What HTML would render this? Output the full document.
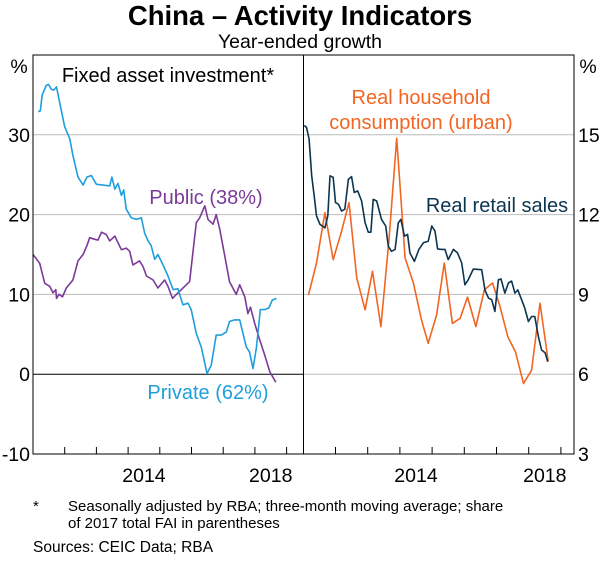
<!DOCTYPE html>
<html><head><meta charset="utf-8"><style>
body{margin:0;background:#fff;width:600px;height:557px;overflow:hidden;font-family:"Liberation Sans",sans-serif}
svg text{font-family:"Liberation Sans",sans-serif}
</style></head><body>
<svg id="chart" width="600" height="557" viewBox="0 0 600 557">
<text x="300" y="25" text-anchor="middle" font-size="27.5" font-weight="bold">China – Activity Indicators</text>
<text x="300" y="48" text-anchor="middle" font-size="19.5">Year-ended growth</text>
<g id="grid"></g>
<g id="series"></g>
<rect x="33" y="55" width="541" height="399" fill="none" stroke="#000" stroke-width="1"/>
<line x1="303.5" y1="55" x2="303.5" y2="454" stroke="#000"/>
<g id="axes"></g>
<text x="19" y="73" text-anchor="middle" font-size="19.5">%</text>
<text x="588" y="73" text-anchor="middle" font-size="19.5">%</text>
<text x="168" y="82" text-anchor="middle" font-size="20">Fixed asset investment*</text>
<text x="206" y="204" text-anchor="middle" font-size="20" fill="#7b3a9a">Public (38%)</text>
<text x="208" y="399" text-anchor="middle" font-size="20" fill="#1e9fdc">Private (62%)</text>
<text x="421" y="104" text-anchor="middle" font-size="20" fill="#f26522">Real household</text>
<text x="421" y="129" text-anchor="middle" font-size="20" fill="#f26522">consumption (urban)</text>
<text x="497" y="212" text-anchor="middle" font-size="20" fill="#0b3550">Real retail sales</text>
<text x="33" y="511" font-size="15">*</text>
<text x="68" y="511" font-size="15">Seasonally adjusted by RBA; three-month moving average; share</text>
<text x="68" y="528" font-size="15">of 2017 total FAI in parentheses</text>
<text x="33" y="552" font-size="15.5">Sources: CEIC Data; RBA</text>
</svg>
<script>
const leftTicks=[-10,0,10,20,30];
const rightTicks=[3,6,9,12,15];
const yearLabels=[2014,2018];
const privYears=[2011.16,2011.23,2011.29,2011.42,2011.49,2011.58,2011.65,2011.74,2011.84,2012.0,2012.16,2012.26,2012.42,2012.58,2012.70,2012.84,2013.0,2013.21,2013.42,2013.49,2013.58,2013.68,2013.79,2013.86,2013.94,2014.10,2014.26,2014.42,2014.52,2014.63,2014.73,2014.84,2014.94,2015.10,2015.26,2015.42,2015.57,2015.73,2015.89,2015.99,2016.15,2016.31,2016.49,2016.62,2016.78,2016.94,2017.10,2017.20,2017.36,2017.52,2017.73,2017.83,2017.94,2018.05,2018.17,2018.31,2018.44,2018.55,2018.68];
const privVals=[32.9,33,35,36.2,36.3,35.7,35.6,36,34.1,31,29.5,27.4,24.7,23.7,24.7,24.9,23.8,23.7,23.6,24.7,23.2,23.9,22.4,23.1,20.7,19.6,19.4,19.6,17.7,16.7,16.1,14.4,15,13.7,12.3,10.6,10.7,8.7,8.9,8.1,5.1,3.4,0.1,1.1,4.9,4.9,5.3,6.6,6.8,6.8,3.4,2.8,0.7,3.4,8.1,8.1,8.3,9.3,9.5];
const pubYears=[2011.0,2011.21,2011.37,2011.53,2011.63,2011.72,2011.74,2011.82,2011.93,2012.05,2012.26,2012.42,2012.58,2012.70,2012.79,2012.95,2013.05,2013.16,2013.31,2013.42,2013.58,2013.79,2013.94,2014.05,2014.15,2014.36,2014.47,2014.58,2014.79,2014.94,2015.15,2015.26,2015.40,2015.52,2015.68,2015.94,2016.15,2016.26,2016.42,2016.52,2016.68,2016.78,2016.89,2017.05,2017.20,2017.41,2017.52,2017.68,2017.78,2017.86,2017.99,2018.15,2018.31,2018.47,2018.66];
const pubVals=[15,13.9,11.4,11,10.2,10.6,9.5,10,9.7,10.8,11.8,14.2,15,16.1,17.1,16.9,16.8,17.8,17.5,16.7,17.3,15.6,15.8,15.4,13.7,14.2,13.5,12.3,11.8,10.8,11.8,11,9.5,10,10.6,11.6,19,19.6,21.1,19.4,18.8,20,18.2,14.8,11.6,10,11.2,9.7,7.6,8.4,6.4,4.3,2.4,0.3,-1];
const retailYears=[2011.03,2011.10,2011.18,2011.26,2011.34,2011.41,2011.52,2011.67,2011.76,2011.83,2011.93,2012.0,2012.09,2012.19,2012.29,2012.40,2012.50,2012.58,2012.69,2012.81,2012.92,2013.02,2013.10,2013.17,2013.28,2013.43,2013.56,2013.64,2013.74,2013.85,2013.95,2014.03,2014.14,2014.24,2014.31,2014.45,2014.59,2014.73,2014.88,2014.99,2015.09,2015.17,2015.30,2015.40,2015.50,2015.66,2015.79,2015.92,2016.02,2016.12,2016.28,2016.54,2016.64,2016.75,2016.85,2016.95,2017.06,2017.14,2017.26,2017.37,2017.47,2017.57,2017.66,2017.78,2017.88,2017.99,2018.09,2018.19,2018.30,2018.40,2018.51,2018.59];
const retailVals=[15.35,15.28,14.84,13.46,12.7,11.95,11.63,11.5,11.95,13.46,13.4,12.45,12.39,12.13,12.2,13.33,13.43,12.83,12.89,12.51,11.69,11.34,11.34,12.57,12.51,11.82,11.57,10.81,10.62,10.69,11.69,11.82,11.19,11.25,10.56,10.24,10.69,10.94,11,11.57,11.38,10.71,10.69,10.69,10.31,10.69,10.56,10.18,9.36,9.55,9.95,9.93,9.17,8.86,8.8,8.36,9.55,9.58,9.05,9.43,9.5,9.05,9.17,8.8,8.48,7.98,8.17,8.17,7.41,6.91,6.81,6.47];
const consYears=[2011.16,2011.41,2011.67,2011.93,2012.19,2012.42,2012.66,2012.92,2013.15,2013.41,2013.66,2013.90,2014.16,2014.42,2014.67,2014.88,2015.14,2015.38,2015.63,2015.87,2016.10,2016.36,2016.62,2016.88,2017.11,2017.35,2017.59,2017.84,2018.09,2018.35,2018.61];
const consVals=[8.98,10.18,12.07,10.31,11.38,12.45,9.61,8.42,9.87,7.79,11.06,14.87,10.37,9.43,8.04,7.16,8.23,10.18,7.91,8.1,8.9,7.79,9.17,9.43,8.54,7.41,6.84,5.65,6.15,8.67,6.47];

const NS='http://www.w3.org/2000/svg';
const plotTop=55,plotBot=454;
const xL=y=>33+(y-2011)*31.7;
const xR=y=>303.3+(y-2011)*32.2;
const yL=v=>plotBot-(v+10)/50*(plotBot-plotTop);
const yR=v=>plotBot-(v-3)/15*(plotBot-plotTop);
function mk(tag,attrs,parent){const e=document.createElementNS(NS,tag);for(const k in attrs)e.setAttribute(k,attrs[k]);parent.appendChild(e);return e;}
const grid=document.getElementById('grid'),axes=document.getElementById('axes'),ser=document.getElementById('series');
leftTicks.forEach(t=>{
  const y=yL(t);
  if(t>-10){const l=mk('line',{x1:33,x2:303,y1:y,y2:y,stroke:t===0?'#000':'#bbb','stroke-width':1},grid);
  
  }
  const tx=mk('text',{x:30,y:y+7,'text-anchor':'end','font-size':19.5},axes);tx.textContent=t;
  
  
});
rightTicks.forEach(t=>{
  const y=yR(t);
  if(t>3){const l=mk('line',{x1:304,x2:574,y1:y,y2:y,stroke:'#bbb','stroke-width':1},grid);
  
  }
  const tx=mk('text',{x:578,y:y+7,'font-size':19.5},axes);tx.textContent=t;
  
  
});
for(let yr=2012;yr<=2019;yr++){
  [xL(yr),xR(yr)].forEach(x=>{const l=mk('line',{x1:x,x2:x,y1:plotBot,y2:plotBot-7,stroke:'#000'},axes);
  
  });
}
yearLabels.forEach(yr=>{
  [xL(yr+0.5),xR(yr+0.5)].forEach(x=>{const tx=mk('text',{x:x,y:482,'text-anchor':'middle','font-size':19.5},axes);tx.textContent=yr;
  
  });
});
function line(xs,vs,fx,fy,col,name){
  const d=xs.map((x,i)=>(i?'L':'M')+fx(x).toFixed(1)+','+fy(vs[i]).toFixed(1)).join('');
  const p=mk('path',{d:d,fill:'none',stroke:col,'stroke-width':1.6,'stroke-linejoin':'round'},ser);
  
  
}
line(pubYears,pubVals,xL,yL,'#7b3a9a','public-fai-line');
line(privYears,privVals,xL,yL,'#1e9fdc','private-fai-line');
line(consYears,consVals,xR,yR,'#f26522','household-consumption-line');
line(retailYears,retailVals,xR,yR,'#0b3550','retail-sales-line');
</script>
</body></html>
